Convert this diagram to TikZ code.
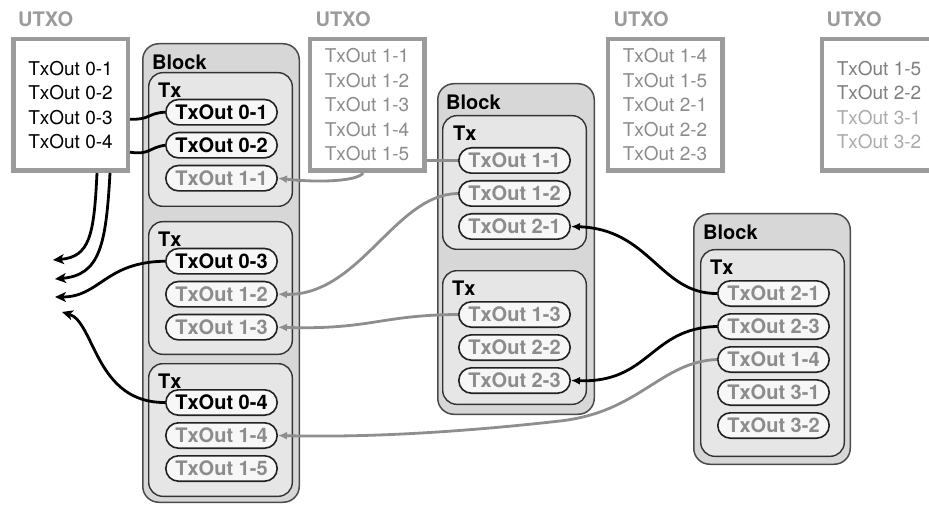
\documentclass[tikz,border=0pt]{standalone}
\usepackage{fontspec}
\setmainfont{TeX Gyre Heros}
\usepackage{tikz}
\usetikzlibrary{positioning,calc}
\usetikzlibrary{shapes.misc,arrows.meta}

\definecolor{boxgray}{HTML}{9B9B9B}
\definecolor{blockfill}{HTML}{D7D7D7}
\definecolor{blockline}{HTML}{4A4A4A}
\definecolor{txfill}{HTML}{E6E6E6}
\definecolor{txline}{HTML}{333333}
\definecolor{pillfill}{HTML}{F7F7F7}
\definecolor{pillline}{HTML}{222222}
\definecolor{spentgray}{HTML}{8C8C8C}
\definecolor{linkgray}{HTML}{8E8E8E}
\definecolor{midgray}{HTML}{7F7F7F}
\definecolor{fadedgray}{HTML}{ABABAB}

\newcommand\listfont{\fontsize{19}{24.5}\selectfont}
\newcommand\pillfont{\fontsize{20}{24}\selectfont\bfseries}
\newcommand\lblfont{\fontsize{20}{24}\selectfont\bfseries}

\begin{document}
\begin{tikzpicture}[x=1pt, y=-1pt,
    utxo/.style={rectangle, draw=boxgray, line width=4.5pt, fill=white, inner sep=0pt,
      align=left, font=\listfont, minimum width=114.5pt, minimum height=131.5pt},
    utxolbl/.style={font=\lblfont, text=boxgray, inner sep=1pt, anchor=south west},
    block/.style={rectangle, rounded corners=16pt, draw=blockline, line width=1.5pt,
      fill=blockfill, minimum width=156.5pt, anchor=north west},
    txbox/.style={rectangle, rounded corners=14pt, draw=txline, line width=1.4pt,
      fill=txfill, minimum width=143.6pt},
    lbl/.style={font=\lblfont, inner sep=1pt},
    pill/.style={rounded rectangle, draw=pillline, line width=1.6pt, fill=pillfill,
      minimum width=111.4pt, minimum height=25.4pt, inner sep=0pt, font=\pillfont},
    gpill/.style={pill, text=spentgray},
    blacklink/.style={line width=2.8pt, draw=black},
    graylink/.style={line width=2.8pt, draw=linkgray},
    intopill/.style={-{Latex[length=9pt,width=8pt]}},
    spendarr/.style={-{Stealth[length=11pt,width=10pt,inset=3pt]}}]

  \useasboundingbox (0,0) rectangle (929,505);
  \clip (0,0) rectangle (929,505);

  % UTXO sets
  \node[utxo] (utxo1) at (70.5,105) {TxOut 0-1\\TxOut 0-2\\TxOut 0-3\\TxOut 0-4};
  \node[utxo, text=spentgray] (utxo2) at (367,105)
    {TxOut 1-1\\TxOut 1-2\\TxOut 1-3\\TxOut 1-4\\TxOut 1-5};
  \node[utxo, text=spentgray] (utxo3) at (665,105)
    {TxOut 1-4\\TxOut 1-5\\TxOut 2-1\\TxOut 2-2\\TxOut 2-3};
  \node[utxo] (utxo4) at (879,105)
    {\textcolor{midgray}{TxOut 1-5}\\\textcolor{midgray}{TxOut 2-2}\\
     \textcolor{fadedgray}{TxOut 3-1}\\\textcolor{fadedgray}{TxOut 3-2}};

  \node[utxolbl] (lbl1) at (17,28) {UTXO};
  \node[utxolbl] (lbl2) at ($(utxo2.north west)+(7,-9)$) {UTXO};
  \node[utxolbl] (lbl3) at ($(utxo3.north west)+(7,-9)$) {UTXO};
  \node[utxolbl] (lbl4) at ($(utxo4.north west)+(6,-9)$) {UTXO};

  % Blocks
  \node[block, minimum height=458.5pt] (blk1) at (142,43) {};
  \node[block, minimum height=330.5pt] (blk2) at (437,83) {};
  \node[block, minimum height=250.5pt] (blk3) at (693,213) {};

  \node[lbl, below right=11pt and 9pt of blk1.north west] (b1lbl) {Block};
  \node[lbl, below right=11pt and 8pt of blk2.north west] (b2lbl) {Block};
  \node[lbl, below right=11pt and 9pt of blk3.north west] (b3lbl) {Block};

  % Transactions
  \node[txbox, minimum height=133.6pt, below right=29pt and 6pt of blk1.north west] (tx11) {};
  \node[txbox, minimum height=132.6pt, below=14pt of tx11] (tx12) {};
  \node[txbox, minimum height=132.6pt, below=8pt of tx12] (tx13) {};
  \node[txbox, minimum height=133.6pt, below right=32pt and 5pt of blk2.north west] (tx21) {};
  \node[txbox, minimum height=133.6pt, below=20pt of tx21] (tx22) {};
  \node[txbox, minimum height=206.6pt, below right=36pt and 7pt of blk3.north west] (tx31) {};

  \node[lbl, below right=10pt and 9pt of tx11.north west] (tx11lbl) {Tx};
  \node[lbl, below right=10pt and 9pt of tx12.north west] (tx12lbl) {Tx};
  \node[lbl, below right=10pt and 9pt of tx13.north west] (tx13lbl) {Tx};
  \node[lbl, below right=10pt and 10pt of tx21.north west] (tx21lbl) {Tx};
  \node[lbl, below right=10pt and 9pt of tx22.north west] (tx22lbl) {Tx};
  \node[lbl, below right=10pt and 9pt of tx31.north west] (tx31lbl) {Tx};

  % Outputs
  \node[pill, below=26.7pt of tx11.north, xshift=1pt] (t01) {TxOut 0-1};
  \node[pill, below=6pt of t01] (t02) {TxOut 0-2};
  \node[gpill, below=6pt of t02] (t11) {TxOut 1-1};

  \node[pill, below=26.7pt of tx12.north, xshift=1pt] (t03) {TxOut 0-3};
  \node[gpill, below=6pt of t03] (t12) {TxOut 1-2};
  \node[gpill, below=6pt of t12] (t13) {TxOut 1-3};

  \node[pill, below=26pt of tx13.north, xshift=1pt] (t04) {TxOut 0-4};
  \node[gpill, below=6pt of t04] (t14) {TxOut 1-4};
  \node[gpill, below=6pt of t14] (t15) {TxOut 1-5};

  \node[gpill, below=32pt of tx21.north] (t11b) {TxOut 1-1};
  \node[gpill, below=6pt of t11b] (t12b) {TxOut 1-2};
  \node[gpill, below=6pt of t12b] (t21) {TxOut 2-1};

  \node[gpill, below=31pt of tx22.north] (t13b) {TxOut 1-3};
  \node[gpill, below=6pt of t13b] (t22) {TxOut 2-2};
  \node[gpill, below=6pt of t22] (t23) {TxOut 2-3};

  \node[gpill, below=31pt of tx31.north, xshift=1pt] (t21c) {TxOut 2-1};
  \node[gpill, below=6pt of t21c] (t23c) {TxOut 2-3};
  \node[gpill, below=6pt of t23c] (t14c) {TxOut 1-4};
  \node[gpill, below=6pt of t14c] (t31) {TxOut 3-1};
  \node[gpill, below=6pt of t31] (t32) {TxOut 3-2};

  % spent ends
  \coordinate (s1) at (53,260);
  \coordinate (s2) at (55,279);
  \coordinate (s3) at (55,297);
  \coordinate (s4) at (62,312);

  % Links
  \draw[blacklink] ($(utxo1.east |- t01.west)+(0,7)$) .. controls (150,120) and (148,113) .. (t01.west);
  \draw[blacklink] ($(utxo1.east |- t02.west)+(0,7)$) .. controls (150,155) and (148,148) .. (t02.west);
  \draw[blacklink, spendarr] ($(utxo1.south)+(26.5,0)$) .. controls (94,235) and (90,257) .. (s1);
  \draw[blacklink, spendarr] ($(utxo1.south)+(39.5,0)$) .. controls (106,245) and (100,275) .. (s2);
  \draw[blacklink, spendarr] (t03.west) .. controls (105,262) and (100,297) .. (s3);
  \draw[blacklink, spendarr] (t04.west) .. controls (95,403) and (95,322) .. (s4);

  \draw[graylink, intopill] ($(utxo2.south)+(-4,0)$) .. controls (358,181) and (320,183) .. (t11.east);
  \draw[graylink] (t11b.west) -- (t11b.west -| utxo2.east);
  \draw[graylink, intopill] (t12b.west) .. controls (395,194) and (360,296) .. (t12.east);
  \draw[graylink, intopill] (t13b.west) .. controls (380,315) and (370,330) .. (t13.east);
  \draw[graylink, intopill] (t14c.west) .. controls (660,362) and (640,412) .. (560,421)
    .. controls (480,430) and (380,438) .. (t14.east);

  \draw[blacklink, intopill] (t21c.west) .. controls (660,294) and (650,229) .. (t21.east);
  \draw[blacklink, intopill] (t23c.west) .. controls (650,328) and (650,383) .. (t23.east);

\end{tikzpicture}
\end{document}
